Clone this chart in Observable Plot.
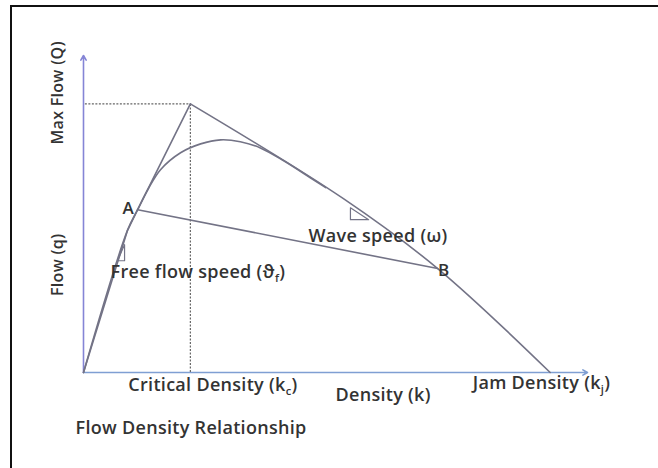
<!DOCTYPE html>
<html>
<head>
<meta charset="utf-8">
<script src="https://cdn.jsdelivr.net/npm/d3@7"></script>
<script src="https://cdn.jsdelivr.net/npm/@observablehq/plot@0.6"></script>
<style>
  html, body { margin: 0; padding: 0; background: #fff; width: 658px; height: 468px; overflow: hidden; }
  #frame { position: absolute; left: 10px; top: 5px; width: 700px; height: 500px; border: 2px solid #111; box-sizing: border-box; }
  #chart { position: absolute; left: 0; top: 0; }
  svg { overflow: visible; }
  svg text { letter-spacing: 0.3px; }
</style>
</head>
<body>
<div id="frame"></div>
<div id="chart"></div>
<script>
// ---- data (density k, flow q) ----
const leftK = [0, 9.4, 11.6, 22.9];
const leftQ = [0, 52.8, 60.6, 100];
const rightK = [22.9, 55.7, 75.9, 100];
const rightQ = [100, 64.7, 38.7, 0];
const curveK = [0, 9.4, 11.6, 13.9, 16.5, 20.8, 25.1, 29.4, 33.6, 37.9, 42.9, 48.6, 51.9];
const curveQ = [0, 52.8, 60.6, 68.4, 75.5, 81.8, 85.1, 86.6, 85.9, 83.6, 78.8, 72.5, 68.8];
const pointNames = ["A", "B"];
const pointK = [11.6, 75.9];
const pointQ = [60.6, 38.7];
const criticalK = 22.9;
const maxQ = 100;
const jamK = 100;
const axisMaxK = 108;
const axisMaxQ = 118;
const freeFlowTriK = [7.3, 8.8, 8.8];
const freeFlowTriQ = [41.6, 41.6, 47.6];
const waveTriK = [57.2, 57.2, 61.1];
const waveTriQ = [61.3, 56.9, 56.9];

const zip = (ks, qs) => ks.map((k, i) => ({k, q: qs[i]}));
const left = zip(leftK, leftQ);
const right = zip(rightK, rightQ);
const curve = zip(curveK, curveQ);
const abLine = zip(pointK, pointQ);
const freeTri = zip(freeFlowTriK, freeFlowTriQ);
const waveTri = zip(waveTriK, waveTriQ);

const lineColor = "#737386";
const textColor = "#333333";
const font = "Open Sans";
const fs = 18;
const fw = 600;

const txt = (label, k, q, opts = {}) => Plot.text([label], {
  x: () => k, y: () => q, text: d => d, fill: textColor,
  fontFamily: font, fontSize: fs, fontWeight: fw, textAnchor: "start", ...opts
});

const chart = Plot.plot({
  width: 658,
  height: 468,
  marginLeft: 83,
  marginRight: 71,
  marginTop: 55,
  marginBottom: 96,
  x: {domain: [0, axisMaxK], axis: null},
  y: {domain: [0, axisMaxQ], axis: null},
  style: {background: "transparent", overflow: "visible"},
  marks: [
    // axes
    Plot.arrow([0], {x1: 0, y1: 0, x2: 0, y2: axisMaxQ, stroke: "#8585d6", strokeWidth: 1.6, headLength: 5}),
    Plot.arrow([0], {x1: 0, y1: 0, x2: axisMaxK, y2: 0, stroke: "#7f9fd3", strokeWidth: 1.6, headLength: 5}),
    // dashed guides
    Plot.ruleY([maxQ], {x1: 0.4, x2: criticalK, stroke: "#666", strokeDasharray: "2,1.5", strokeWidth: 1.2}),
    Plot.ruleX([criticalK], {y1: 0, y2: maxQ, stroke: "#666", strokeDasharray: "2,1.5", strokeWidth: 1.2}),
    // triangular envelope
    Plot.line(left, {x: "k", y: "q", stroke: lineColor, strokeWidth: 1.6}),
    Plot.line(right, {x: "k", y: "q", stroke: lineColor, strokeWidth: 1.6, curve: "catmull-rom"}),
    // flow-density curve
    Plot.line(curve, {x: "k", y: "q", stroke: lineColor, strokeWidth: 1.6, curve: "catmull-rom"}),
    // A-B wave line
    Plot.line(abLine, {x: "k", y: "q", stroke: lineColor, strokeWidth: 1.6}),
    // slope triangles
    Plot.line([...freeTri, freeTri[0]], {x: "k", y: "q", stroke: lineColor, strokeWidth: 1.2}),
    Plot.line([...waveTri, waveTri[0]], {x: "k", y: "q", stroke: lineColor, strokeWidth: 1.2}),
    // point labels
    Plot.text(pointNames, {x: (d, i) => pointK[i] + (i === 0 ? -2.0 : 1.3), y: (d, i) => pointQ[i] + (i === 0 ? 0.6 : -0.8), text: d => d, fill: textColor, fontFamily: font, fontSize: 17, fontWeight: fw}),
    // annotations
    txt("Free flow speed (ϑ_f)", 5.8, 37.2),
    txt("Wave speed (ω)", 48.2, 50.9),
    txt("Critical Density (k_c)", 9.6, -4.8),
    txt("Density (k)", 54.0, -8.5),
    txt("Jam Density (k_j)", 83.4, -4.1),
    txt("Flow Density Relationship", -1.7, -20.8),
    txt("Max Flow (Q)", -5.4, 104.1, {rotate: -90, textAnchor: "middle", fontSize: 16}),
    txt("Flow (q)", -5.4, 40.1, {rotate: -90, textAnchor: "middle", fontSize: 16})
  ]
});

// render subscripts as real tspans
chart.querySelectorAll("text").forEach(t => {
  const s = t.textContent;
  if (!s.includes("_")) return;
  const parts = s.split(/_(.)/);
  t.textContent = "";
  parts.forEach((p, i) => {
    if (!p) return;
    const ts = document.createElementNS("http://www.w3.org/2000/svg", "tspan");
    ts.textContent = p;
    if (i % 2 === 1) {
      ts.setAttribute("font-size", "11");
      ts.setAttribute("dy", "4");
    } else if (i > 1) {
      ts.setAttribute("dy", "-4");
    }
    t.appendChild(ts);
  });
});

document.getElementById("chart").appendChild(chart);
</script>
</body>
</html>
